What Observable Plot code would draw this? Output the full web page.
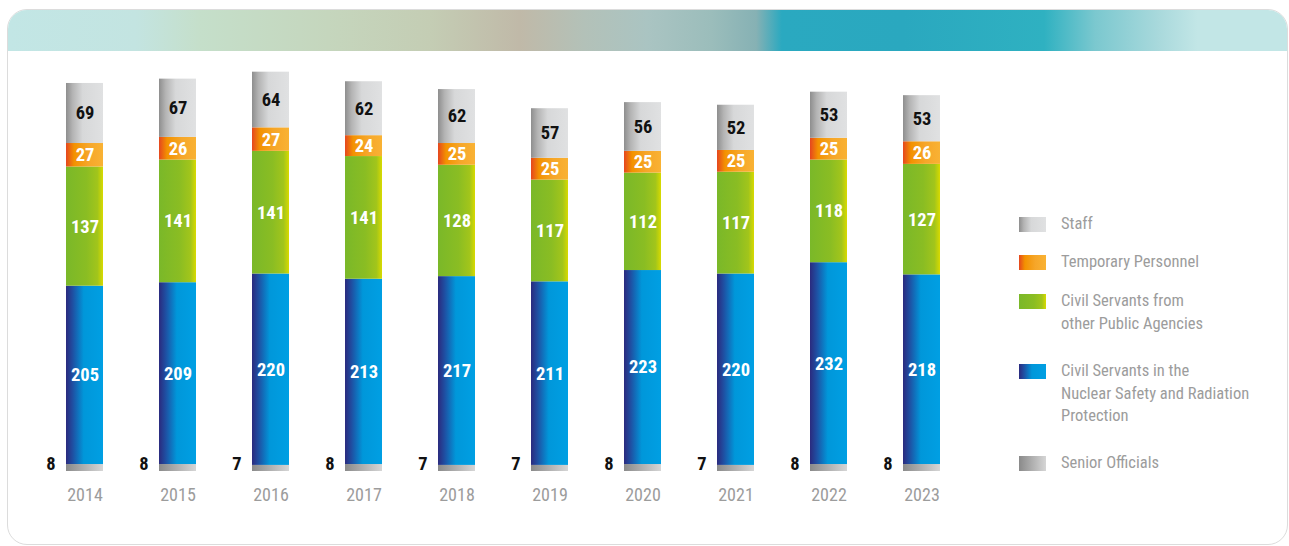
<!DOCTYPE html>
<html>
<head>
<meta charset="utf-8">
<script src="https://cdn.jsdelivr.net/npm/d3@7"></script>
<script src="https://cdn.jsdelivr.net/npm/@observablehq/plot@0.6"></script>
<style>
  html, body { margin: 0; padding: 0; background: #fff; }
  body { width: 1289px; height: 546px; position: relative; overflow: hidden;
         font-family: "Roboto Condensed", "Liberation Sans Narrow", "DejaVu Sans Condensed", "Arial Narrow", Roboto, sans-serif; }
  #card { position: absolute; left: 7px; top: 9px; width: 1279px; height: 534px;
          border: 1px solid #dcdcdc; border-radius: 20px; overflow: hidden; background: #fff; }
  #banner { position: absolute; left: 0; top: 0; right: 0; height: 41px;
    background: linear-gradient(90deg, #c2e6e5 0%, #c3e4e1 10%, #c5dfca 15%, #c5d6bd 25%, #c4cdb4 33%, #c0b9a8 40%, #b3c1b8 45%, #aac4c2 50%, #9bbdbb 55%, #86b1b4 58.5%, #2aa9c0 60.5%, #2aa8bf 70%, #2fb1c1 81%, #7bc8cf 85%, #a9d9dc 90%, #c2e6e6 93%, #c2e6e6 100%); }
  #chart { position: absolute; left: 0; top: 0; }
  #legend { position: absolute; left: 1019px; top: 0; color: #9c9c9c; font-size: 16.5px; line-height: 22.5px; }
  .item { position: absolute; left: 0; width: 280px; }
  .sw { position: absolute; left: 0; width: 27px; height: 15px; }
  .lab { position: absolute; left: 42px; white-space: nowrap; }
</style>
</head>
<body>
<div id="card"><div id="banner"></div></div>
<div id="chart"></div>
<div id="legend"></div>
<script>
// ---- data ----
const years = ["2014","2015","2016","2017","2018","2019","2020","2021","2022","2023"];
const seniorOfficials = [8, 8, 7, 8, 7, 7, 8, 7, 8, 8];
const civilNuclear = [205, 209, 220, 213, 217, 211, 223, 220, 232, 218];
const civilAgencies = [137, 141, 141, 141, 128, 117, 112, 117, 118, 127];
const temporary = [27, 26, 27, 24, 25, 25, 25, 25, 25, 26];
const staff = [69, 67, 64, 62, 62, 57, 56, 52, 53, 53];

const seriesKeys = ["senior", "nuclear", "agencies", "temporary", "staff"];
const seriesValues = { senior: seniorOfficials, nuclear: civilNuclear, agencies: civilAgencies, temporary, staff };
const legendLabels = [
  ["staff", "Staff"],
  ["temporary", "Temporary Personnel"],
  ["agencies", "Civil Servants from<br>other Public Agencies"],
  ["nuclear", "Civil Servants in the<br>Nuclear Safety and Radiation<br>Protection"],
  ["senior", "Senior Officials"]
];

const rows = [];
years.forEach((yr, i) => {
  seriesKeys.forEach(k => rows.push({ year: yr, series: k, value: seriesValues[k][i] }));
});

const gradients = {
  staff: [["0%", "#8e8e8e"], ["18%", "#b4b4b4"], ["45%", "#d7d8d9"], ["100%", "#e0e1e2"]],
  temporary: [["0%", "#e5461f"], ["22%", "#f39200"], ["60%", "#f6a629"], ["100%", "#f9b234"]],
  agencies: [["0%", "#7ab829"], ["55%", "#8abd23"], ["85%", "#a2c51b"], ["100%", "#d8da00"]],
  nuclear: [["0%", "#2b2a7e"], ["18%", "#1f4fa2"], ["48%", "#0097da"], ["100%", "#009fe3"]],
  senior: [["0%", "#8a8a8a"], ["100%", "#d6d6d6"]]
};

const stackOpts = { x: "year", y: "value", z: "series" };

const plot = Plot.plot({
  width: 1289,
  height: 546,
  marginTop: 36,
  marginBottom: 75,
  marginLeft: 10.5,
  marginRight: 292.5,
  style: { background: "none", fontFamily: "inherit", overflow: "visible" },
  x: { domain: years, padding: 0.602, axis: null },
  y: { domain: [0, 500], axis: null },
  color: { type: "identity" },
  marks: [
    Plot.barY(rows, Plot.stackY({ ...stackOpts, fill: d => `url(#g-${d.series})`, inset: 0 })),
    Plot.text(rows, Plot.stackY({
      ...stackOpts,
      text: d => d.series === "senior" ? "" : String(d.value),
      fill: d => d.series === "staff" ? "#111111" : "#ffffff",
      fontSize: 18.5, fontWeight: "bold"
    })),
    Plot.text(years.map((yr, i) => ({ year: yr, v: seniorOfficials[i] })), {
      x: "year", y: () => 0, text: d => String(d.v), dx: -34, dy: -7,
      fill: "#111111", fontSize: 18.5, fontWeight: "bold"
    }),
    Plot.text(years, {
      x: d => d, y: () => 0, text: d => d, dy: 24,
      fill: "#9c9c9c", fontSize: 18
    })
  ]
});

// gradient defs
const defs = Object.entries(gradients).map(([k, stops]) =>
  `<linearGradient id="g-${k}" x1="0" y1="0" x2="1" y2="0">` +
  stops.map(([o, c]) => `<stop offset="${o}" stop-color="${c}"/>`).join("") +
  `</linearGradient>`).join("");
plot.insertAdjacentHTML("afterbegin", `<defs>${defs}</defs>`);
document.getElementById("chart").appendChild(plot);

// legend
const legendTops = { staff: 217, temporary: 255, agencies: 294, nuclear: 364, senior: 456 };
const lg = document.getElementById("legend");
legendLabels.forEach(([k, label]) => {
  const stops = gradients[k].map(([o, c]) => `${c} ${o}`).join(", ");
  const item = document.createElement("div");
  item.className = "item";
  item.style.top = legendTops[k] + "px";
  item.innerHTML = `<div class="sw" style="background:linear-gradient(90deg, ${stops})"></div>` +
    `<div class="lab" style="top:-4px">${label}</div>`;
  lg.appendChild(item);
});
</script>
</body>
</html>
